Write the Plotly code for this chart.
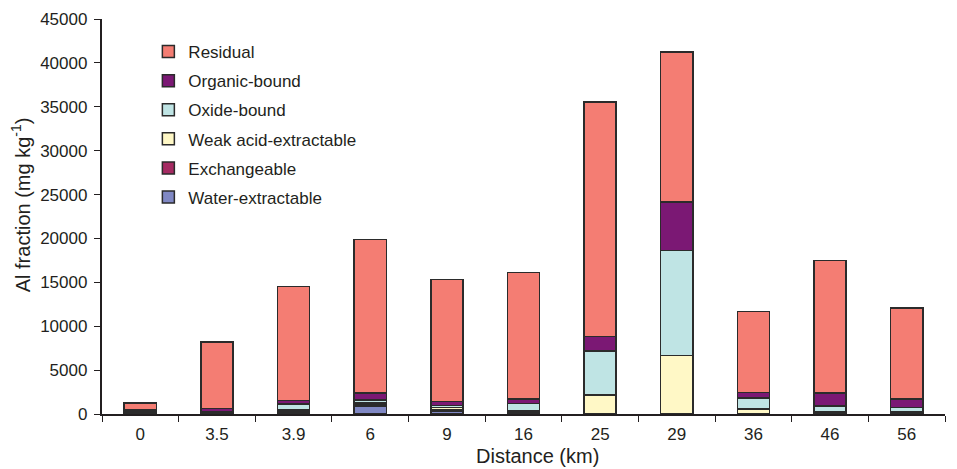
import plotly.graph_objects as go

categories = ["0", "3.5", "3.9", "6", "9", "16", "25", "29", "36", "46", "56"]
water = [200, 50, 150, 900, 350, 50, 20, 20, 20, 50, 50]
exchangeable = [50, 100, 150, 200, 150, 100, 30, 30, 30, 50, 50]
weak_acid = [50, 50, 150, 150, 250, 200, 2100, 6600, 500, 100, 100]
oxide = [100, 50, 700, 350, 200, 850, 5000, 12000, 1250, 700, 550]
organic = [100, 400, 400, 800, 450, 500, 1700, 5500, 650, 1500, 950]
residual = [750, 7550, 12950, 17500, 13900, 14400, 26700, 17100, 9200, 15100, 10400]

series = [
    ("Water-extractable", water, "#8088C4"),
    ("Exchangeable", exchangeable, "#A52A62"),
    ("Weak acid-extractable", weak_acid, "#FFF8C6"),
    ("Oxide-bound", oxide, "#BFE4E4"),
    ("Organic-bound", organic, "#7B1874"),
    ("Residual", residual, "#F47D73"),
]

fig = go.Figure()
n = len(series)
for i, (name, vals, col) in enumerate(series):
    fig.add_trace(go.Bar(
        x=categories, y=vals, name=name, legendgroup=name,
        legendrank=n - i,
        marker=dict(color=col, line=dict(color="#2b2b2b", width=1.5)),
        width=0.42,
    ))

font_family = "Liberation Sans, Arial, sans-serif"
# page body has an 8px default margin; compensate in size/margins
fig.update_layout(
    barmode="stack",
    width=949, height=461,
    margin=dict(l=94, r=12, t=11, b=55),
    paper_bgcolor="white", plot_bgcolor="white",
    font=dict(family=font_family, size=17, color="#231f20"),
    legend=dict(
        x=0.055, y=0.962, xanchor="left", yanchor="top",
        traceorder="grouped", tracegroupgap=4, bgcolor="rgba(0,0,0,0)",
        font=dict(size=17), itemwidth=30,
    ),
    xaxis=dict(
        type="category", showline=True, linecolor="#231f20", linewidth=1.5,
        ticks="outside", tickson="boundaries", ticklen=6, tickcolor="#231f20",
        ticklabelstandoff=4, automargin=False,
    ),
    yaxis=dict(
        range=[0, 45000], dtick=5000, showline=True, linecolor="#231f20",
        linewidth=1.5, ticks="outside", ticklen=6, tickcolor="#231f20",
        showgrid=False, zeroline=False, tickformat="d", ticksuffix="\u2009",
        automargin=False,
    ),
    annotations=[
        dict(text="Distance (km)", xref="paper", yref="paper",
             x=0.517, y=-0.106, xanchor="center", yanchor="middle",
             showarrow=False, font=dict(size=20)),
        dict(text="Al fraction (mg kg<sup>-1</sup>)", xref="paper", yref="paper",
             x=-0.097, y=0.529, xanchor="center", yanchor="middle",
             textangle=-90, showarrow=False, font=dict(size=20)),
    ],
)

fig.write_html("out.html")
